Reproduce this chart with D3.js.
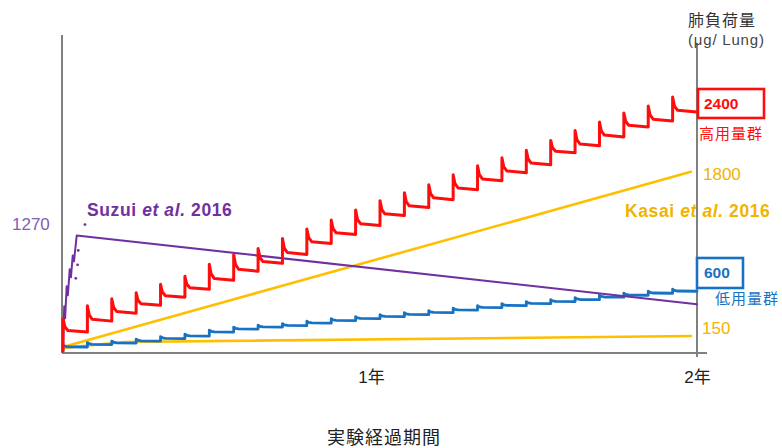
<!DOCTYPE html>
<html>
<head>
<meta charset="utf-8">
<script src="https://cdn.jsdelivr.net/npm/d3@7"></script>
<style>
  html, body { margin: 0; padding: 0; background: #fff; }
  svg { display: block; font-family: "Liberation Sans", Arial, "Noto Sans CJK JP", sans-serif; }
</style>
</head>
<body>
<svg id="chart" width="782" height="448"></svg>
<script>
// Weeks of exposure (dosing every 4 weeks for two years)
const doseWeeks = [0, 4, 8, 12, 16, 20, 24, 28, 32, 36, 40, 44, 48, 52, 56, 60, 64, 68, 72, 76, 80, 84, 88, 92, 96, 100];
const endWeek = 104;

// High-dose group: lung burden just after each dose and the retained level afterwards (µg/lung)
const highPeak  = [325, 455, 525, 585, 670, 750, 870, 970, 1030, 1130, 1225, 1315, 1415, 1510, 1590, 1670, 1770, 1860, 1940, 2015, 2115, 2215, 2300, 2390, 2460, 2550];
const highLevel = [190, 300, 380, 460, 540, 620, 710, 800, 880, 970, 1080, 1170, 1260, 1360, 1440, 1520, 1620, 1710, 1790, 1870, 1990, 2060, 2150, 2250, 2310, 2400];

// Low-dose group
const lowPeak  = [60, 85, 100, 120, 145, 170, 210, 240, 260, 275, 300, 325, 345, 365, 385, 405, 430, 455, 475, 495, 515, 535, 560, 580, 600, 620];
const lowLevel = [40, 65, 80, 100, 125, 150, 190, 220, 240, 255, 280, 305, 325, 345, 365, 385, 410, 435, 455, 475, 495, 515, 540, 560, 580, 600];

// Kasai et al. 2016 (inhalation, two levels)
const kasaiHighWeeks = [0, 103];
const kasaiHighVals  = [40, 1800];
const kasaiLowWeeks  = [0, 10, 103];
const kasaiLowVals   = [30, 90, 150];

// Suzui et al. 2016 (short exposure, then clearance)
const suzuiWeeks = [0, 0.2, 0.35, 0.6, 0.8, 1.1, 1.3, 1.6, 1.8, 2.25, 104];
const suzuiVals  = [0, 450, 330, 650, 560, 820, 740, 960, 900, 1160, 470];
const suzuiDotWeeks = [2.1, 2.4, 2.5, 3.6];
const suzuiDotVals  = [730, 865, 1010, 1270];

// Axis text
const xTickWeeks  = [52, 104];
const xTickLabels = ["1年", "2年"];
const xTitle = "実験経過期間";
const yTitle = ["肺負荷量", "(μg/ Lung)"];

const RED = "#ff0d0d", BLUE = "#1872c2", GOLD = "#ffbf00", GOLD_TEXT = "#f2b300",
      PURPLE = "#7030a0", PURPLE_LIGHT = "#7f61b3", AXIS = "#808080";

const svg = d3.select("#chart");

const x = d3.scaleLinear().domain([0, endWeek]).range([63, 697]);
const y = d3.scaleLinear().domain([0, 2400]).range([351, 112]);

const line = d3.line().x(d => x(d[0])).y(d => y(d[1]));

// Saw-tooth path: jump at each dose, quick clearance, then a slowly settling plateau
function dosePoints(peaks, levels) {
  const pts = [[doseWeeks[0], 0]];
  doseWeeks.forEach((w, i) => {
    const prev = i === 0 ? 0 : levels[i - 1];
    const next = i < doseWeeks.length - 1 ? doseWeeks[i + 1] : endWeek;
    const pk = peaks[i], lv = levels[i];
    pts.push([w, prev], [w, pk],
             [w + 0.3, lv + 0.4 * (pk - lv)],
             [w + 0.8, lv + 0.12 * (pk - lv)],
             [next, lv]);
  });
  return pts;
}

function citation(xPos, yPos, name, colour) {
  const t = svg.append("text")
    .attr("x", xPos).attr("y", yPos)
    .attr("font-size", 17.5).attr("font-weight", "bold").attr("letter-spacing", 0.6)
    .attr("fill", colour);
  t.append("tspan").text(name + " ");
  t.append("tspan").attr("font-style", "italic").text("et al.");
  t.append("tspan").text(" 2016");
}

// "Kasai et al. 2016" sits under the right axis line
citation(625, 217, "Kasai", GOLD_TEXT);

// Axes
const axisG = svg.append("g").attr("stroke", AXIS).attr("stroke-width", 2);
axisG.append("line").attr("x1", x(0) - 1).attr("x2", x(0) - 1).attr("y1", 35).attr("y2", 353);
axisG.append("line").attr("x1", x(0) - 1).attr("x2", x(endWeek) + 10).attr("y1", 353).attr("y2", 353);
axisG.append("line").attr("x1", x(endWeek)).attr("x2", x(endWeek)).attr("y1", 43).attr("y2", 357);

const xAxis = d3.axisBottom(x)
  .tickValues(xTickWeeks)
  .tickFormat((d, i) => xTickLabels[i])
  .tickSize(0).tickPadding(0);
const xg = svg.append("g").attr("transform", "translate(0,383)").call(xAxis);
xg.select(".domain").remove();
xg.selectAll("text")
  .attr("dy", 0).attr("dx", (d, i) => i === 0 ? -9 : 0)
  .attr("font-size", 17).attr("fill", "#222")
  .attr("font-family", "'Liberation Sans', 'Noto Sans CJK JP', sans-serif");

svg.append("text").attr("x", 384).attr("y", 444).attr("text-anchor", "middle")
  .attr("font-size", 18).attr("fill", "#222").attr("letter-spacing", 1)
  .attr("font-family", "'Noto Sans CJK JP', sans-serif").text(xTitle);

// Series
const series = svg.append("g").attr("fill", "none").attr("stroke-linejoin", "round").attr("stroke-linecap", "round");

series.append("path")
  .attr("d", line(kasaiLowWeeks.map((w, i) => [w, kasaiLowVals[i]])))
  .attr("stroke", GOLD).attr("stroke-width", 2.6);
series.append("path")
  .attr("d", line(kasaiHighWeeks.map((w, i) => [w, kasaiHighVals[i]])))
  .attr("stroke", GOLD).attr("stroke-width", 2.6);

series.append("path")
  .attr("d", line(dosePoints(lowPeak, lowLevel)))
  .attr("stroke", BLUE).attr("stroke-width", 2.8);

series.append("path")
  .attr("d", line(suzuiWeeks.map((w, i) => [w, suzuiVals[i]])))
  .attr("stroke", PURPLE).attr("stroke-width", 2);

series.append("path")
  .attr("d", line(dosePoints(highPeak, highLevel)))
  .attr("stroke", RED).attr("stroke-width", 3);

svg.append("g").selectAll("circle")
  .data(suzuiDotWeeks.map((w, i) => [w, suzuiDotVals[i]]))
  .join("circle")
  .attr("cx", d => x(d[0])).attr("cy", d => y(d[1])).attr("r", 1.4)
  .attr("fill", PURPLE);

// Labels
citation(87, 216, "Suzui", PURPLE);

svg.append("text").attr("x", 12).attr("y", 230)
  .attr("font-size", 17).attr("fill", PURPLE_LIGHT).text(d3.max(suzuiDotVals));

svg.append("text").attr("x", 688).attr("y", 26)
  .attr("font-size", 16).attr("fill", "#333").attr("letter-spacing", 1)
  .attr("font-family", "'Noto Sans CJK JP', sans-serif").text(yTitle[0]);
svg.append("text").attr("x", 688).attr("y", 45)
  .attr("font-size", 15).attr("fill", "#444").attr("letter-spacing", 0.8)
  .text(yTitle[1]);

// High-dose end value box
const hiEnd = highLevel[highLevel.length - 1];
svg.append("rect").attr("x", 698).attr("y", y(hiEnd) - 23).attr("width", 66).attr("height", 29)
  .attr("fill", "#fff").attr("stroke", RED).attr("stroke-width", 2.6);
svg.append("text").attr("x", 704).attr("y", y(hiEnd) - 3)
  .attr("font-size", 15.5).attr("font-weight", "bold").attr("fill", RED).text(hiEnd);
svg.append("text").attr("x", 699).attr("y", 139)
  .attr("font-size", 15).attr("fill", RED).attr("letter-spacing", 1)
  .attr("font-family", "'Noto Sans CJK JP', sans-serif").text("高用量群");

svg.append("text").attr("x", 703).attr("y", 180)
  .attr("font-size", 17).attr("fill", GOLD_TEXT).text(kasaiHighVals[kasaiHighVals.length - 1]);

// Low-dose end value box
const loEnd = lowLevel[lowLevel.length - 1];
svg.append("rect").attr("x", 697).attr("y", 258).attr("width", 46).attr("height", 30)
  .attr("fill", "#fff").attr("stroke", BLUE).attr("stroke-width", 2.6);
svg.append("text").attr("x", 704).attr("y", 278)
  .attr("font-size", 15.5).attr("font-weight", "bold").attr("fill", BLUE).text(loEnd);
svg.append("text").attr("x", 715).attr("y", 304)
  .attr("font-size", 15).attr("fill", BLUE).attr("letter-spacing", 1)
  .attr("font-family", "'Noto Sans CJK JP', sans-serif").text("低用量群");

svg.append("text").attr("x", 702).attr("y", 334)
  .attr("font-size", 17).attr("fill", GOLD_TEXT).text(kasaiLowVals[kasaiLowVals.length - 1]);
</script>
</body>
</html>
